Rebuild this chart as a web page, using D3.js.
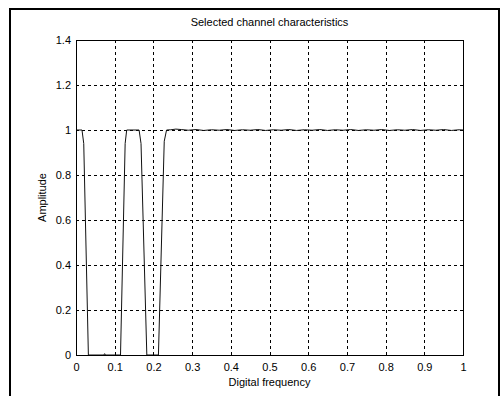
<!DOCTYPE html>
<html>
<head>
<meta charset="utf-8">
<script src="https://cdn.jsdelivr.net/npm/d3@7"></script>
<style>
  body { margin: 0; background: #fff; }
  svg { display: block; font-family: "Liberation Sans", Arial, sans-serif; }
</style>
</head>
<body>
<div id="chart"></div>
<script>
// Data
const freq = [0, 0.0155, 0.020, 0.032, 0.072, 0.074, 0.076, 0.115, 0.127, 0.131,
  0.163, 0.168, 0.183, 0.213, 0.228, 0.234, 0.245, 0.258, 0.272, 0.29, 0.31,
  0.33, 0.35, 0.37, 0.39, 0.41, 0.43, 0.45, 0.47, 0.49, 0.51, 0.53, 0.55, 0.57,
  0.59, 0.61, 0.63, 0.65, 0.67, 0.69, 0.71, 0.73, 0.75, 0.77, 0.79, 0.81, 0.83,
  0.85, 0.87, 0.89, 0.91, 0.93, 0.95, 0.97, 0.99, 1.0];
const amp = [1, 1, 0.94, 0, 0, 0.006, 0, 0, 0.94, 1,
  1, 0.94, 0, 0, 0.95, 1, 1.001, 1.004, 1.002, 0.999, 1.002,
  0.998, 1.001, 0.999, 1.002, 0.998, 1.001, 0.999, 1.002, 0.998, 1.001, 0.999, 1.002, 0.998,
  1.001, 0.999, 1.002, 0.998, 1.001, 0.999, 1.002, 0.998, 1.001, 0.999, 1.002, 0.998, 1.001,
  0.999, 1.002, 0.998, 1.001, 0.999, 1.002, 0.998, 1.001, 1.0];
const xTicks = [0, 0.1, 0.2, 0.3, 0.4, 0.5, 0.6, 0.7, 0.8, 0.9, 1];
const yTicks = [0, 0.2, 0.4, 0.6, 0.8, 1, 1.2, 1.4];

const title = "Selected channel characteristics";
const xLabel = "Digital frequency";
const yLabel = "Amplitude";

// Dimensions
let dimensions = {
    width: 503,
    height: 396,
    margin: {top: 40, right: 40, bottom: 41, left: 76},
}
dimensions.boundedWidth = dimensions.width - dimensions.margin.left - dimensions.margin.right
dimensions.boundedHeight = dimensions.height - dimensions.margin.top - dimensions.margin.bottom

// Scales
const xScale = d3.scaleLinear()
    .domain([0, 1])
    .range([0, dimensions.boundedWidth]);

const yScale = d3.scaleLinear()
    .domain([0, 1.4])
    .range([dimensions.boundedHeight, 0]);

function drawChart() {
    const svg = d3.select("#chart")
        .append("svg")
            .attr("width", dimensions.width)
            .attr("height", dimensions.height)

    // Outer figure frame
    svg.append("rect")
        .attr("x", 10)
        .attr("y", 9)
        .attr("width", 489)
        .attr("height", 400)
        .attr("fill", "#fff")
        .attr("stroke", "#000")
        .attr("stroke-width", 2)

    const bounds = svg.append("g")
        .attr("transform", `translate(${dimensions.margin.left},${dimensions.margin.top})`)
        .style("font-size", "11px")

    // Grid lines
    const grid = bounds.append("g")
        .attr("stroke", "#000")
        .attr("stroke-width", 1)
        .attr("stroke-dasharray", "3,3")
        .attr("shape-rendering", "crispEdges")

    grid.selectAll(".vgrid")
        .data(xTicks.slice(1, -1))
        .join("line")
            .attr("class", "vgrid")
            .attr("x1", d => Math.round(xScale(d)) + 0.5)
            .attr("x2", d => Math.round(xScale(d)) + 0.5)
            .attr("y1", 0)
            .attr("y2", dimensions.boundedHeight)

    grid.selectAll(".hgrid")
        .data(yTicks.slice(1, -1))
        .join("line")
            .attr("class", "hgrid")
            .attr("x1", 0)
            .attr("x2", dimensions.boundedWidth)
            .attr("y1", d => Math.round(yScale(d)) + 0.5)
            .attr("y2", d => Math.round(yScale(d)) + 0.5)

    // Curve
    const line = d3.line()
        .x((d, i) => xScale(freq[i]))
        .y((d, i) => yScale(amp[i]))

    bounds.append("path")
        .datum(amp)
        .attr("d", line)
        .attr("fill", "none")
        .attr("stroke", "#111")
        .attr("stroke-width", 1)

    // Axes box
    bounds.append("rect")
        .attr("x", 0.5)
        .attr("y", 0.5)
        .attr("width", dimensions.boundedWidth)
        .attr("height", dimensions.boundedHeight)
        .attr("fill", "none")
        .attr("stroke", "#000")
        .attr("stroke-width", 1)
        .attr("shape-rendering", "crispEdges")

    // X axis
    const xAxis = bounds.append("g")
        .attr("transform", `translate(0,${dimensions.boundedHeight})`)
        .call(d3.axisBottom(xScale)
            .tickValues(xTicks)
            .tickSize(0)
            .tickPadding(8)
            .tickFormat(d3.format("")))
    xAxis.select(".domain").remove()
    xAxis.selectAll("text")
        .attr("fill", "#000")
        .style("font-size", "11px")
        .style("font-family", "Liberation Sans, Arial, sans-serif")

    // Y axis
    const yAxis = bounds.append("g")
        .call(d3.axisLeft(yScale)
            .tickValues(yTicks)
            .tickSize(0)
            .tickPadding(5)
            .tickFormat(d3.format("")))
    yAxis.select(".domain").remove()
    yAxis.selectAll("text")
        .attr("fill", "#000")
        .style("font-size", "11px")
        .style("font-family", "Liberation Sans, Arial, sans-serif")

    // Labels
    bounds.append("text")
        .attr("x", dimensions.boundedWidth / 2)
        .attr("y", -14)
        .attr("text-anchor", "middle")
        .text(title)

    bounds.append("text")
        .attr("x", dimensions.boundedWidth / 2)
        .attr("y", dimensions.boundedHeight + 31)
        .attr("text-anchor", "middle")
        .text(xLabel)

    bounds.append("text")
        .attr("transform", `translate(-30,${dimensions.boundedHeight / 2}) rotate(-90)`)
        .attr("text-anchor", "middle")
        .text(yLabel)
}

drawChart();
</script>
</body>
</html>
